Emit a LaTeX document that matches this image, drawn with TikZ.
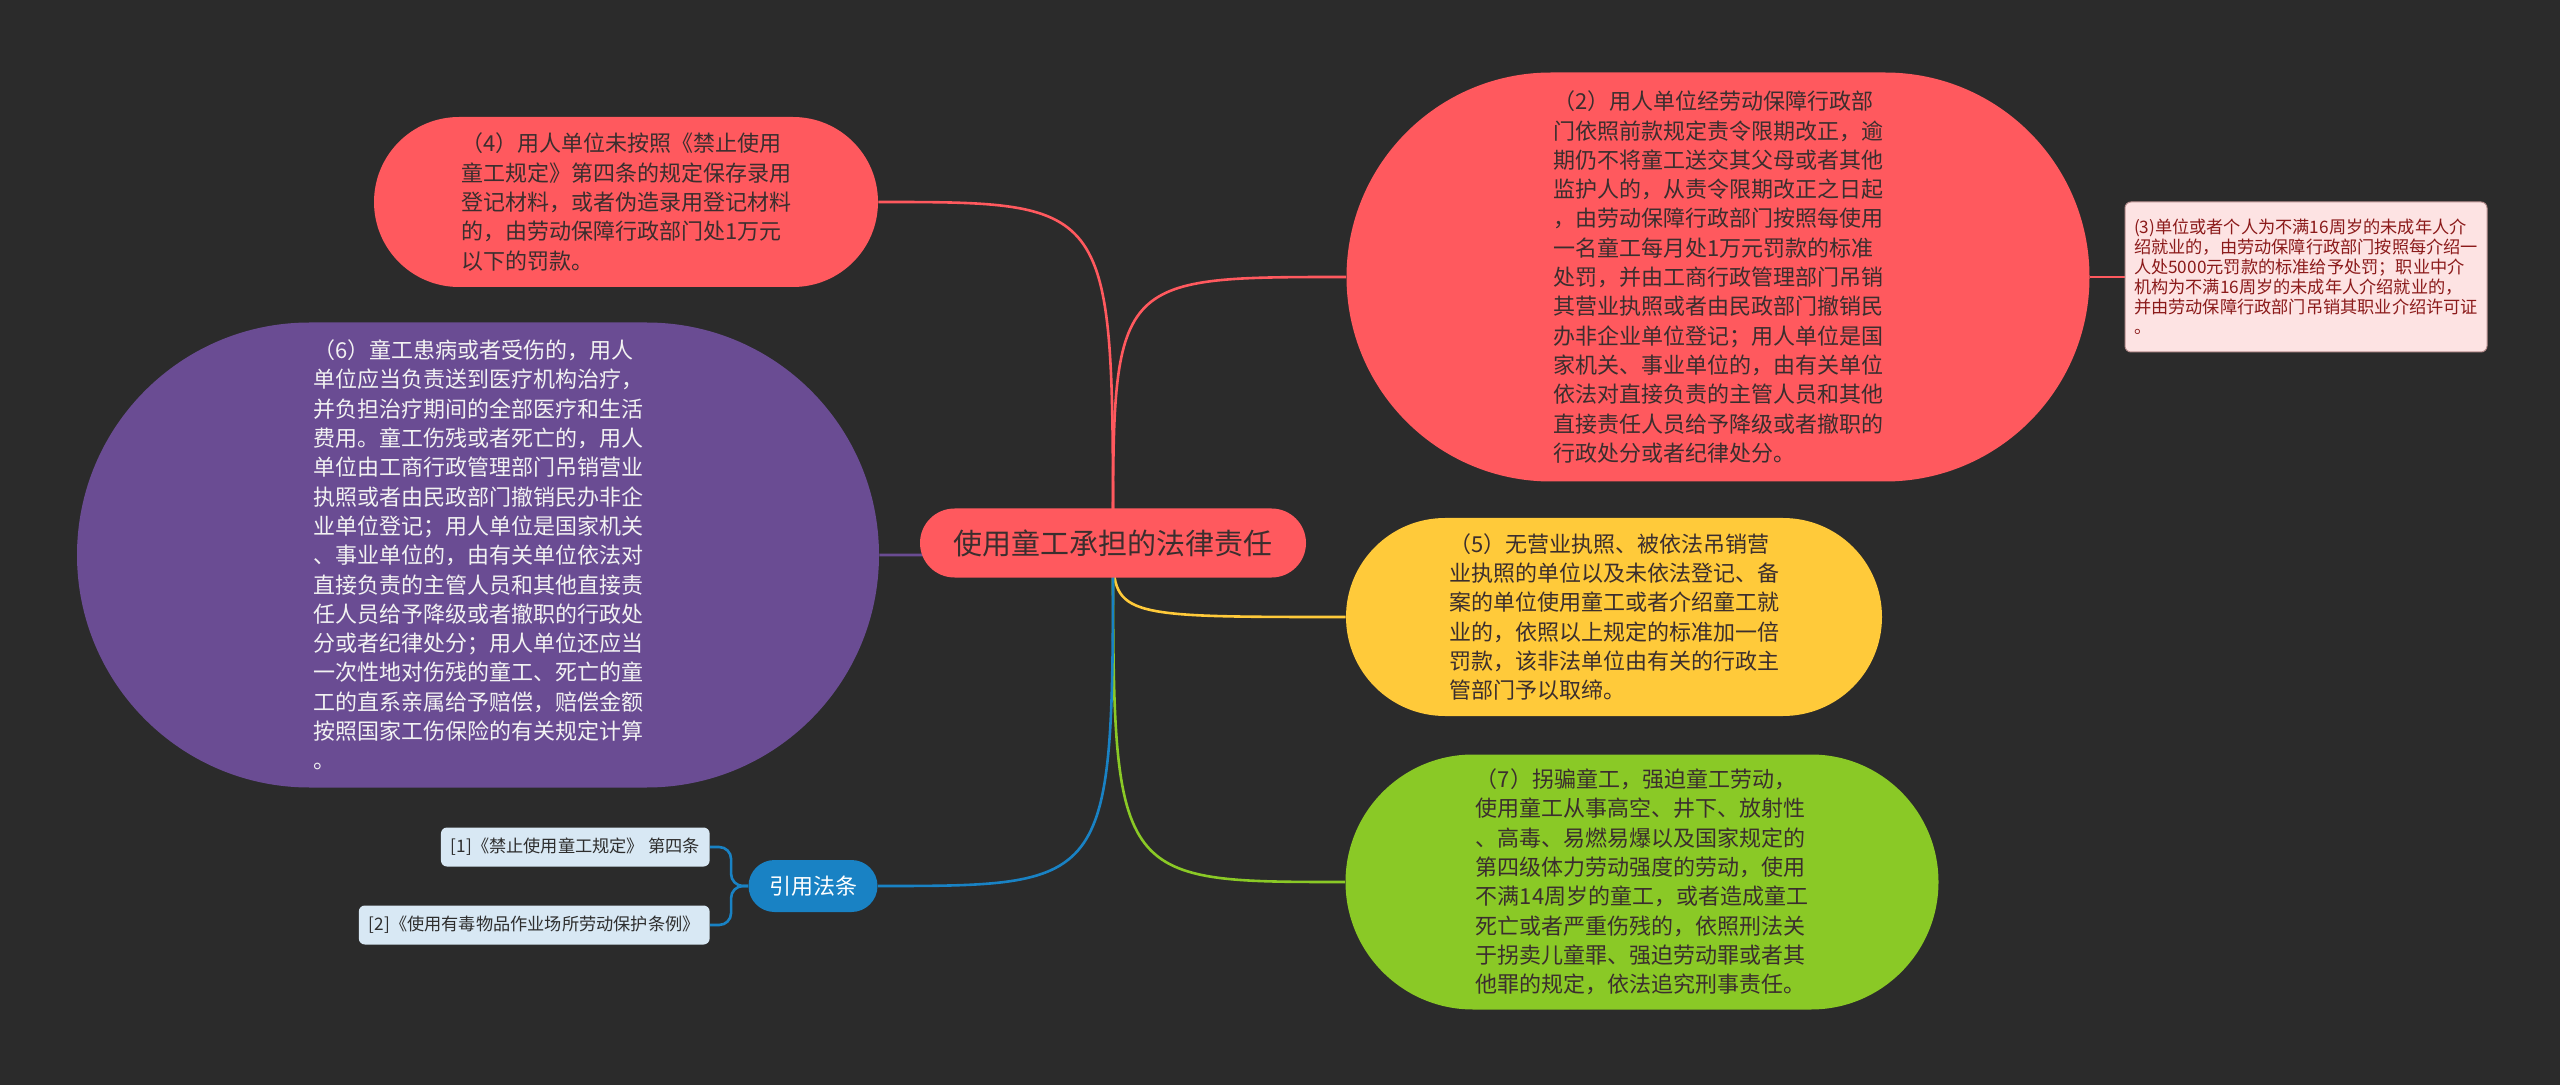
\documentclass[tikz,border=0pt]{standalone}
\usepackage{fontspec}
\usepackage{xcolor}
\usepackage{tikz}
\usetikzlibrary{shapes,positioning,calc}
\newfontfamily\cjk{Noto Sans CJK SC}

\definecolor{canvas}{HTML}{2B2B2B}
\definecolor{mmred}{HTML}{FF595E}
\definecolor{mmyellow}{HTML}{FFCA3A}
\definecolor{mmgreen}{HTML}{8AC926}
\definecolor{mmblue}{HTML}{1982C4}
\definecolor{mmpurple}{HTML}{6A4C93}
\definecolor{darktxt}{HTML}{3B2E2E}
\definecolor{lighttxt}{HTML}{F2F2F2}
\definecolor{notebg}{HTML}{FDE3E3}
\definecolor{notebd}{HTML}{B89090}
\definecolor{notetxt}{HTML}{8B1A1A}
\definecolor{citebg}{HTML}{D8E8F4}
\definecolor{citetxt}{HTML}{2E2E2E}

\pgfdeclarelayer{bg}
\pgfdeclarelayer{edges}
\pgfsetlayers{bg,edges,main}

\begin{document}
\begin{tikzpicture}[
    x=0.5pt, y=-0.5pt,
    root/.style={rounded rectangle, fill=mmred, text=darktxt, inner sep=2pt,
        minimum width=197pt, minimum height=34.5pt, font=\cjk\fontsize{14.5}{17}\selectfont},
    topic/.style={rounded rectangle, align=left, inner sep=2pt, text=darktxt,
        font=\cjk\fontsize{11}{14.65}\selectfont},
    note/.style={rectangle, rounded corners=3pt, fill=notebg, draw=notebd, line width=0.5pt,
        text=notetxt, align=left, inner xsep=4pt, minimum width=181pt, minimum height=75pt,
        font=\cjk\fontsize{8.6}{10}\selectfont},
    cite/.style={rectangle, rounded corners=3pt, fill=citebg, text=citetxt, anchor=east,
        inner xsep=5pt, minimum height=19.5pt, font=\cjk\fontsize{8.6}{10}\selectfont},
    law/.style={rounded rectangle, fill=mmblue, text=white, inner sep=2pt,
        minimum width=68.5pt, minimum height=26pt, font=\cjk\fontsize{11}{13}\selectfont},
    link/.style={line width=1.3pt}
]
    \useasboundingbox (0,0) rectangle (2560,1085);
    \begin{pgfonlayer}{bg}
        \fill[canvas] (0,0) rectangle (2560,1085);
    \end{pgfonlayer}

    % Central topic
    \node[root] (root) at (1113,543) {使用童工承担的法律责任};

    % Left branches
    \node[topic, fill=mmred, minimum width=256pt, minimum height=85pt] (n4) at (626,202) {
        （4）用人单位未按照《禁止使用\\
        童工规定》第四条的规定保存录用\\
        登记材料，或者伪造录用登记材料\\
        的，由劳动保障行政部门处1万元\\
        以下的罚款。
    };

    \node[topic, fill=mmpurple, text=lighttxt, minimum width=405pt, minimum height=232.5pt] (n6) at (478,555) {
        （6）童工患病或者受伤的，用人\\
        单位应当负责送到医疗机构治疗，\\
        并负担治疗期间的全部医疗和生活\\
        费用。童工伤残或者死亡的，用人\\
        单位由工商行政管理部门吊销营业\\
        执照或者由民政部门撤销民办非企\\
        业单位登记；用人单位是国家机关\\
        、事业单位的，由有关单位依法对\\
        直接负责的主管人员和其他直接责\\
        任人员给予降级或者撤职的行政处\\
        分或者纪律处分；用人单位还应当\\
        一次性地对伤残的童工、死亡的童\\
        工的直系亲属给予赔偿，赔偿金额\\
        按照国家工伤保险的有关规定计算\\
        。
    };

    \node[law] (law) at (813,886) {引用法条};
    \node[cite] (r1) at (710,847) {[1]《禁止使用童工规定》 第四条};
    \node[cite] (r2) at (710,925) {[2]《使用有毒物品作业场所劳动保护条例》};

    % Right branches
    \node[topic, fill=mmred, minimum width=375.5pt, minimum height=204.5pt] (n2) at (1718,277) {
        （2）用人单位经劳动保障行政部\\
        门依照前款规定责令限期改正，逾\\
        期仍不将童工送交其父母或者其他\\
        监护人的，从责令限期改正之日起\\
        ，由劳动保障行政部门按照每使用\\
        一名童工每月处1万元罚款的标准\\
        处罚，并由工商行政管理部门吊销\\
        其营业执照或者由民政部门撤销民\\
        办非企业单位登记；用人单位是国\\
        家机关、事业单位的，由有关单位\\
        依法对直接负责的主管人员和其他\\
        直接责任人员给予降级或者撤职的\\
        行政处分或者纪律处分。
    };

    \node[note] (n3) at (2306,277) {
        (3)单位或者个人为不满16周岁的未成年人介\\
        绍就业的，由劳动保障行政部门按照每介绍一\\
        人处5000元罚款的标准给予处罚；职业中介\\
        机构为不满16周岁的未成年人介绍就业的，\\
        并由劳动保障行政部门吊销其职业介绍许可证\\
        。
    };

    \node[topic, fill=mmyellow, minimum width=272pt, minimum height=99pt] (n5) at (1614,617) {
        （5）无营业执照、被依法吊销营\\
        业执照的单位以及未依法登记、备\\
        案的单位使用童工或者介绍童工就\\
        业的，依照以上规定的标准加一倍\\
        罚款，该非法单位由有关的行政主\\
        管部门予以取缔。
    };

    \node[topic, fill=mmgreen, minimum width=300.5pt, minimum height=127.5pt] (n7) at (1642,882) {
        （7）拐骗童工，强迫童工劳动，\\
        使用童工从事高空、井下、放射性\\
        、高毒、易燃易爆以及国家规定的\\
        第四级体力劳动强度的劳动，使用\\
        不满14周岁的童工，或者造成童工\\
        死亡或者严重伤残的，依照刑法关\\
        于拐卖儿童罪、强迫劳动罪或者其\\
        他罪的规定，依法追究刑事责任。
    };

    % Connectors
    \begin{pgfonlayer}{edges}
        \draw[link, mmred] (root.center) .. controls (root.center |- n4.east) .. (n4.east);
        \draw[link, mmred] (root.center) .. controls (root.center |- n2.west) .. (n2.west);
        \draw[link, mmpurple] (root.center) .. controls (root.center |- n6.east) .. (n6.east);
        \draw[link, mmyellow] (root.center) .. controls (root.center |- n5.west) .. (n5.west);
        \draw[link, mmgreen] (root.center) .. controls (root.center |- n7.west) .. (n7.west);
        \draw[link, mmblue] (root.center) .. controls (root.center |- law.east) .. (law.east);
        \draw[link, mmred] (n2.east) -- (n3.west);
        \draw[link, mmblue, rounded corners=6pt] (law.west) -- ++(-17,0) |- (r1.east);
        \draw[link, mmblue, rounded corners=6pt] (law.west) -- ++(-17,0) |- (r2.east);
    \end{pgfonlayer}
\end{tikzpicture}
\end{document}
